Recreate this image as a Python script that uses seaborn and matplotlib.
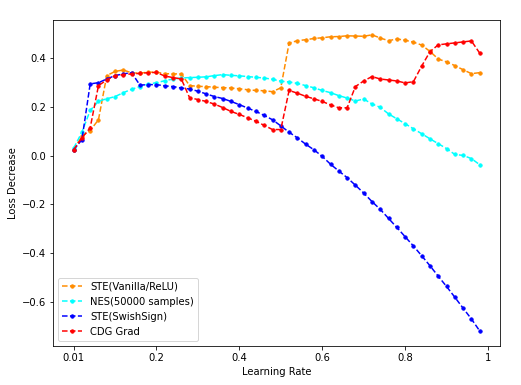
import numpy as np
import pandas as pd
import matplotlib
matplotlib.use("Agg")
import matplotlib.pyplot as plt
import seaborn as sns

# learning rate positions (50 runs)
lr = np.round(np.arange(50) * 0.02, 2)

ste_vanilla = [0.024, 0.080, 0.103, 0.147, 0.328, 0.345, 0.351, 0.339, 0.338, 0.342,
               0.342, 0.336, 0.335, 0.335, 0.287, 0.284, 0.283, 0.280, 0.279, 0.277,
               0.274, 0.270, 0.267, 0.266, 0.262, 0.278, 0.461, 0.471, 0.475, 0.480,
               0.483, 0.487, 0.488, 0.491, 0.490, 0.489, 0.495, 0.482, 0.471, 0.478,
               0.473, 0.465, 0.453, 0.427, 0.396, 0.384, 0.369, 0.352, 0.336, 0.340]

nes = [0.030, 0.096, 0.185, 0.223, 0.233, 0.242, 0.258, 0.272, 0.283, 0.293,
       0.299, 0.307, 0.314, 0.318, 0.320, 0.321, 0.323, 0.328, 0.332, 0.329,
       0.327, 0.324, 0.321, 0.318, 0.313, 0.305, 0.302, 0.296, 0.287, 0.278,
       0.267, 0.258, 0.246, 0.236, 0.224, 0.232, 0.212, 0.198, 0.171, 0.151,
       0.131, 0.110, 0.090, 0.069, 0.049, 0.029, 0.005, 0.001, -0.012, -0.037]

ste_swish = [0.024, 0.065, 0.294, 0.299, 0.314, 0.328, 0.335, 0.340, 0.289, 0.291,
             0.291, 0.286, 0.283, 0.277, 0.273, 0.264, 0.253, 0.242, 0.234, 0.222,
             0.209, 0.195, 0.181, 0.165, 0.147, 0.122, 0.096, 0.073, 0.047, 0.024,
             -0.003, -0.035, -0.063, -0.090, -0.121, -0.153, -0.188, -0.220, -0.257, -0.294,
             -0.332, -0.370, -0.410, -0.451, -0.494, -0.536, -0.580, -0.625, -0.669, -0.718]

cdg = [0.024, 0.073, 0.114, 0.287, 0.310, 0.328, 0.332, 0.335, 0.337, 0.340,
       0.341, 0.326, 0.320, 0.314, 0.237, 0.230, 0.222, 0.211, 0.197, 0.181,
       0.169, 0.155, 0.141, 0.124, 0.107, 0.107, 0.267, 0.256, 0.243, 0.233,
       0.222, 0.208, 0.196, 0.196, 0.283, 0.306, 0.324, 0.314, 0.310, 0.306,
       0.298, 0.303, 0.367, 0.426, 0.454, 0.458, 0.462, 0.466, 0.470, 0.420]

names = ["STE(Vanilla/ReLU)", "NES(50000 samples)", "STE(SwishSign)", "CDG Grad"]
colors = ["darkorange", "cyan", "blue", "red"]
series = [ste_vanilla, nes, ste_swish, cdg]

xtick_pos = [0, 0.2, 0.4, 0.6, 0.8, 1.0]
xtick_labels = ["0.01", "0.2", "0.4", "0.6", "0.8", "1"]

fig = plt.figure(figsize=(521 / 72, 385 / 72), dpi=72)
ax = fig.add_axes([0.1023, 0.102, 0.8574, 0.846])

for name, col, vals in zip(names, colors, series):
    df = pd.DataFrame({"lr": lr, "loss": vals})
    sns.lineplot(data=df, x="lr", y="loss", ax=ax, color=col, linestyle="--",
                 marker=".", markersize=7, markeredgecolor=col, linewidth=1.5,
                 label=name)

ax.set_xticks(xtick_pos)
ax.set_xticklabels(xtick_labels)
ax.set_xlabel("Learning Rate")
ax.set_ylabel("Loss Decrease")
ax.legend(loc="lower left")

fig.savefig("out.png", dpi=72)
